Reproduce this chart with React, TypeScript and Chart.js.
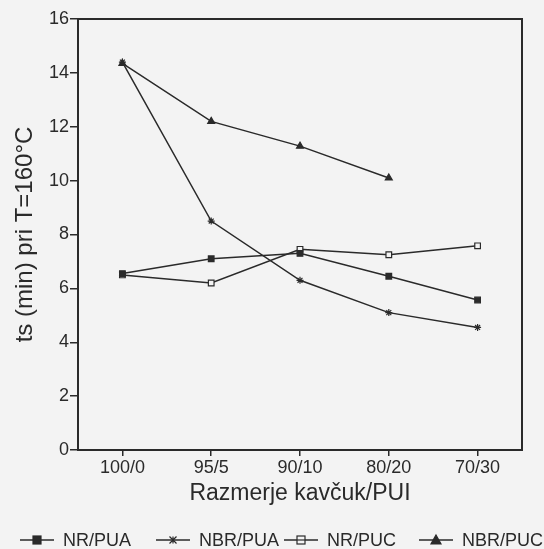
import React, { useEffect, useRef } from "react";
import { Chart, registerables } from "chart.js";

Chart.register(...registerables);

const categories = ["100/0", "95/5", "90/10", "80/20", "70/30"];
const nrPua = [6.55, 7.1, 7.3, 6.45, 5.57];
const nbrPua = [14.4, 8.5, 6.3, 5.1, 4.55];
const nrPuc = [6.5, 6.2, 7.45, 7.25, 7.58];
const nbrPuc = [14.35, 12.2, 11.28, 10.1, null];
const seriesNames = ["NR/PUA", "NBR/PUA", "NR/PUC", "NBR/PUC"];
const yTicks = [0, 2, 4, 6, 8, 10, 12, 14, 16];

const INK = "#2a2a2a";
const BG = "#f3f3f3";
const FONT = "'Liberation Sans', Arial, sans-serif";

const frame = {
  id: "frame",
  beforeDraw(chart: any) {
    const c = chart.ctx;
    c.save();
    c.fillStyle = BG;
    c.fillRect(0, 0, chart.width, chart.height);
    c.restore();
  },
  afterDraw(chart: any) {
    const c = chart.ctx;
    const a = chart.chartArea;
    c.save();
    c.strokeStyle = INK;
    c.lineWidth = 2;
    c.strokeRect(a.left, a.top, a.right - a.left, a.bottom - a.top);
    // legend
    const legendX = [20, 156, 284, 419];
    const y = 540;
    c.font = `18px ${FONT}`;
    c.textBaseline = "middle";
    chart.data.datasets.forEach((ds: any, i: number) => {
      const x0 = legendX[i];
      c.strokeStyle = INK;
      c.lineWidth = 1.5;
      c.beginPath();
      c.moveTo(x0, y);
      c.lineTo(x0 + 34, y);
      c.stroke();
      const cx = x0 + 17;
      c.fillStyle = ds.pointBackgroundColor;
      c.strokeStyle = INK;
      c.lineWidth = 1.2;
      const r = ds.pointRadius;
      const st = ds.pointStyle;
      if (st === "rect") {
        c.fillRect(cx - r, y - r, 2 * r, 2 * r);
        c.strokeRect(cx - r, y - r, 2 * r, 2 * r);
        if (ds.pointBackgroundColor === BG) {
          c.beginPath();
          c.moveTo(cx - r, y);
          c.lineTo(cx + r, y);
          c.stroke();
        }
      } else if (st === "triangle") {
        c.beginPath();
        c.moveTo(cx, y - r - 1);
        c.lineTo(cx + r + 1, y + r);
        c.lineTo(cx - r - 1, y + r);
        c.closePath();
        c.fill();
        c.stroke();
      } else {
        c.beginPath();
        c.moveTo(cx - r, y - r);
        c.lineTo(cx + r, y + r);
        c.moveTo(cx + r, y - r);
        c.lineTo(cx - r, y + r);
        c.moveTo(cx, y - r);
        c.lineTo(cx, y + r);
        c.stroke();
      }
      c.fillStyle = INK;
      c.textAlign = "left";
      c.fillText(ds.label, x0 + 43, y + 1);
    });
    c.restore();
  },
};

export default function App() {
  const ref = useRef<HTMLCanvasElement | null>(null);
  useEffect(() => {
    if (!ref.current) return;
    const mk = (label: string, data: any[], style: string, fill: string, r: number) => ({
      label,
      data,
      borderColor: INK,
      borderWidth: 1.5,
      pointStyle: style,
      pointRadius: r,
      pointBackgroundColor: fill,
      pointBorderColor: INK,
      pointBorderWidth: 1.2,
      tension: 0,
      fill: false,
    });
    const chart = new Chart(ref.current, {
      type: "line",
      data: {
        labels: categories,
        datasets: [
          mk(seriesNames[0], nrPua, "rect", INK, 4),
          mk(seriesNames[1], nbrPua, "star", INK, 3.5),
          mk(seriesNames[2], nrPuc, "rect", BG, 4),
          mk(seriesNames[3], nbrPuc, "triangle", INK, 4),
        ],
      },
      options: {
        animation: false,
        responsive: false,
        maintainAspectRatio: false,
        layout: { padding: { left: 8, right: 22, top: 19, bottom: 42 } },
        plugins: { legend: { display: false }, tooltip: { enabled: false } },
        scales: {
          x: {
            type: "category",
            offset: true,
            grid: { offset: false, drawOnChartArea: false, drawTicks: true, tickLength: 6, color: INK, lineWidth: 1.5 },
            border: { display: true, color: INK, width: 2 },
            ticks: { color: INK, font: { family: FONT, size: 18 }, padding: 1, maxRotation: 0 },
            title: { display: true, text: "Razmerje kavčuk/PUI", color: INK, font: { family: FONT, size: 23 }, padding: { top: 0, bottom: 0 } },
            afterFit: (s: any) => { s.height = 57; },
          },
          y: {
            min: 0,
            max: 16,
            afterBuildTicks: (s: any) => { s.ticks = yTicks.map((v) => ({ value: v })); },
            grid: { drawOnChartArea: false, drawTicks: true, tickLength: 8, color: INK, lineWidth: 1.5 },
            border: { display: true, color: INK, width: 2 },
            ticks: { color: INK, font: { family: FONT, size: 18 }, padding: 1 },
            title: { display: true, text: "ts (min) pri T=160°C", color: INK, font: { family: FONT, size: 24 }, padding: { top: 3, bottom: 0 } },
            afterFit: (s: any) => { s.width = 70; },
          },
        },
      },
      plugins: [frame],
    } as any);
    return () => chart.destroy();
  }, []);
  return (
    <div style={{ position: "absolute", left: 0, top: 0, width: 544, height: 549, background: BG }}>
      <canvas ref={ref} width={544} height={549} style={{ display: "block", width: 544, height: 549 }} />
    </div>
  );
}
